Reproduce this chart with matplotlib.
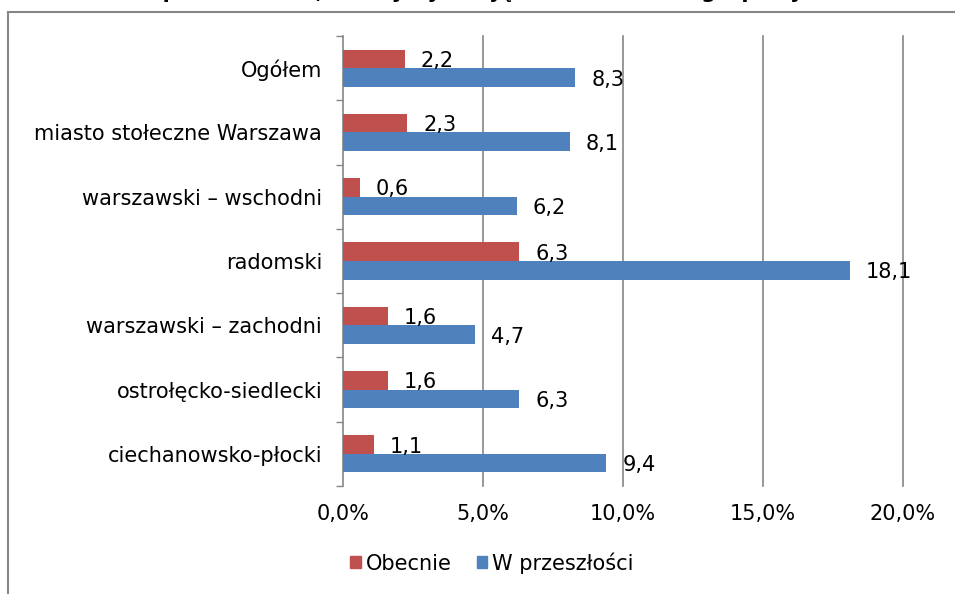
import matplotlib
matplotlib.use("Agg")
import matplotlib.pyplot as plt
from matplotlib.patches import Rectangle, Patch
import numpy as np

plt.rcParams['font.family'] = ['DejaVu Sans']

title = "Odsetek pracowników, którzy byli objęci zwolnieniami grupowymi"
categories = [
    "Ogółem",
    "miasto stołeczne Warszawa",
    "warszawski – wschodni",
    "radomski",
    "warszawski – zachodni",
    "ostrołęcko-siedlecki",
    "ciechanowsko-płocki",
]
obecnie = [2.2, 2.3, 0.6, 6.3, 1.6, 1.6, 1.1]
przeszlosc = [8.3, 8.1, 6.2, 18.1, 4.7, 6.3, 9.4]
series_names = ["Obecnie", "W przeszłości"]
xticks = [0, 5, 10, 15, 20]
xtick_labels = ["0,0%", "5,0%", "10,0%", "15,0%", "20,0%"]

RED = "#C0504D"
BLUE = "#4F81BD"
GRID = "#868686"
FS = 15

W, H = 955, 594
fig = plt.figure(figsize=(W / 100, H / 100), dpi=100)

# outer chart frame (runs past the right and bottom edges)
fig.patches.append(Rectangle((8 / W, -0.1), 2.0, 1 - 12 / H + 0.1,
                             transform=fig.transFigure, fill=False,
                             edgecolor=GRID, linewidth=1.5, zorder=0))

fig.text(58 / W, 1 + 2.5 / H, title, ha='left', va='baseline',
         fontsize=15, fontweight='bold', color='black')

ax = fig.add_axes([343 / W, (H - 486) / H, (903 - 343) / W, (486 - 36) / H])

y = np.arange(len(categories))
bh = 0.29
ax.barh(y - bh / 2, obecnie, height=bh, color=RED, zorder=3)
ax.barh(y + bh / 2, przeszlosc, height=bh, color=BLUE, zorder=3)

def fmt(v):
    return f"{v:.1f}".replace('.', ',')

for yi, v in zip(y - bh / 2, obecnie):
    ax.annotate(fmt(v), (v, yi), xytext=(11.5, -1.5), textcoords='offset points',
                ha='left', va='center', fontsize=FS, zorder=4)
for yi, v in zip(y + bh / 2, przeszlosc):
    ax.annotate(fmt(v), (v, yi), xytext=(11.5, -1.5), textcoords='offset points',
                ha='left', va='center', fontsize=FS, zorder=4)

ax.set_xlim(0, 20)
ax.set_ylim(len(categories) - 0.5, -0.5)

ax.set_xticks(xticks)
ax.set_xticklabels(xtick_labels, fontsize=FS)
ax.tick_params(axis='x', length=0, pad=13)
ax.set_yticks(y)
ax.set_yticklabels(categories, fontsize=FS)
ax.set_yticks(np.arange(len(categories) + 1) - 0.5, minor=True)
ax.tick_params(axis='y', which='major', length=0, pad=15)
ax.tick_params(axis='y', which='minor', length=5, width=1, color=GRID)

for xv in xticks[1:]:
    ax.axvline(xv, color=GRID, linewidth=1.2, zorder=1, clip_on=False)

for s in ['top', 'right', 'bottom']:
    ax.spines[s].set_visible(False)
ax.spines['left'].set_color(GRID)
ax.spines['left'].set_linewidth(1.2)
ax.set_facecolor('none')

handles = [Patch(color=RED), Patch(color=BLUE)]
fig.legend(handles, series_names, loc='center', ncol=2,
           bbox_to_anchor=(492 / W, 1 - 563 / H), frameon=False, fontsize=FS,
           handlelength=0.5, handleheight=0.5, handletextpad=0.25,
           columnspacing=1.2)

fig.savefig("out.png", dpi=100)
